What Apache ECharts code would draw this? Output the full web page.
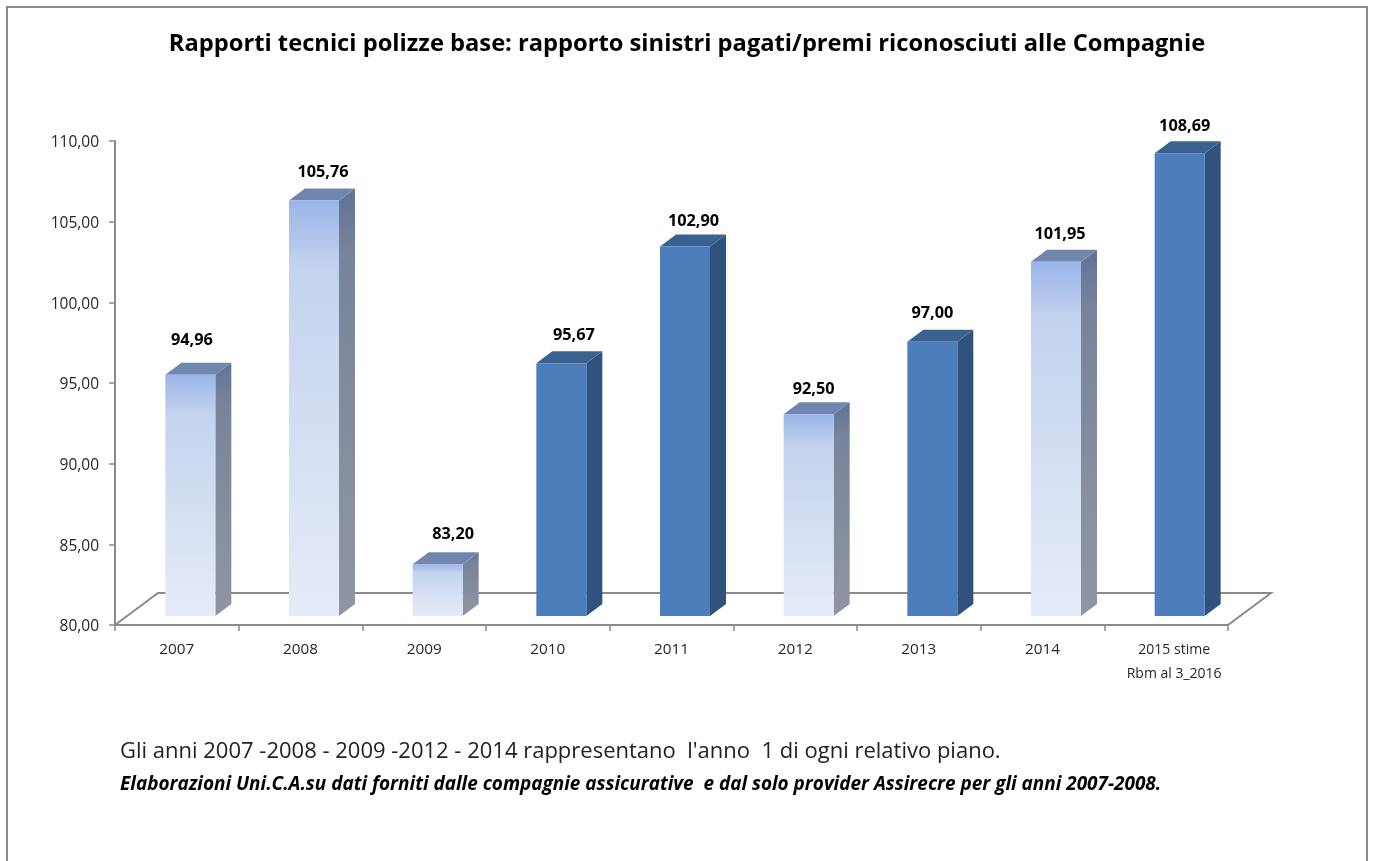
<!DOCTYPE html>
<html>
<head>
<meta charset="utf-8">
<title>Rapporti tecnici polizze base</title>
<style>html,body{margin:0;padding:0;background:#fff}#chart{width:1375px;height:861px}</style>
<script src="https://cdn.jsdelivr.net/npm/echarts@6/dist/echarts.min.js"></script>
</head>
<body>
<div id="chart"></div>
<script>
// Chart data
const years = ['2007', '2008', '2009', '2010', '2011', '2012', '2013', '2014', '2015 stime\nRbm al 3_2016'];
const ratios = [94.96, 105.76, 83.20, 95.67, 102.90, 92.50, 97.00, 101.95, 108.69];
const firstPlanYear = [1, 1, 1, 0, 0, 1, 0, 1, 0];
const yTicks = { min: 80, max: 110, step: 5 };

// Oblique projection of the floor and of each column (pixels)
const FLOOR_DX = 43, FLOOR_DY = -32;
const FRONT_DX = 13.5, FRONT_DY = -9;
const DEPTH_DX = 16, DEPTH_DY = -12;
const BAR_W = 50;
// Hand-placed value labels: offset from the column's front centre and lift above its back edge
const labelShift = [1.5, 9, 15.5, 12.5, 8.5, 5, 0, 4, 5];
const labelLift = [22, 16, 18, 16, 13, 13, 16.5, 16, 15];

const FONT = '"Open Sans", sans-serif';
const GREY = '#8a8a8a';
const vgrad = stops => ({
  type: 'linear', x: 0, y: 0, x2: 0, y2: 1,
  colorStops: stops.map(([offset, color]) => ({ offset, color }))
});

const lightStyle = {
  front: vgrad([[0, '#9ab5e8'], [0.16, '#c3d2ee'], [0.5, '#d2ddf2'], [1, '#e5ebf8']]),
  side: vgrad([[0, '#5f7297'], [0.16, '#78849b'], [1, '#9095a2']]),
  top: '#7186ad'
};
const darkStyle = { front: '#4d7ebc', side: '#30527c', top: '#3a6291' };

const poly = (points, fill) => ({
  type: 'polygon', shape: { points }, style: { fill, stroke: null }
});

function renderBar(params, api) {
  const i = api.value(0);
  const val = api.value(1);
  const base = api.coord([i, yTicks.min]);
  const head = api.coord([i, val]);
  const x0 = base[0] - BAR_W / 2 + FRONT_DX;
  const x1 = x0 + BAR_W;
  const yb = base[1] + FRONT_DY;
  const yt = head[1] + FRONT_DY;
  const s = firstPlanYear[i] ? lightStyle : darkStyle;
  return {
    type: 'group',
    children: [
      poly([[x1, yt], [x1 + DEPTH_DX, yt + DEPTH_DY], [x1 + DEPTH_DX, yb + DEPTH_DY], [x1, yb]], s.side),
      poly([[x0, yt], [x0 + DEPTH_DX, yt + DEPTH_DY], [x1 + DEPTH_DX, yt + DEPTH_DY], [x1, yt]], s.top),
      { type: 'rect', shape: { x: x0, y: yt, width: BAR_W, height: yb - yt }, style: { fill: s.front } },
      {
        type: 'text',
        style: {
          x: x0 + BAR_W / 2 + labelShift[i], y: yt + DEPTH_DY - labelLift[i],
          text: val.toFixed(2).replace('.', ','),
          font: 'bold 16.3px ' + FONT, fill: '#000',
          align: 'center', verticalAlign: 'middle'
        }
      }
    ]
  };
}

// Back and side edges of the floor, drawn from the axis scale
function renderFloor(params, api) {
  const a = api.coord([0, yTicks.min]);
  const b = api.coord([years.length - 1, yTicks.min]);
  const half = api.size([1, 0])[0] / 2;
  const xl = a[0] - half, xr = b[0] + half, y = a[1];
  return {
    type: 'polyline',
    shape: { points: [[xl, y], [xl + FLOOR_DX, y + FLOOR_DY], [xr + FLOOR_DX, y + FLOOR_DY], [xr, y]] },
    style: { fill: null, stroke: GREY, lineWidth: 2 }
  };
}

const chart = echarts.init(document.getElementById('chart'), null, { renderer: 'canvas' });
chart.setOption({
  animation: false,
  backgroundColor: '#fff',
  title: {
    text: 'Rapporti tecnici polizze base: rapporto sinistri pagati/premi riconosciuti alle Compagnie',
    left: 682, top: 27, textAlign: 'center',
    textStyle: { fontFamily: FONT, fontWeight: 'bold', fontSize: 23.7, color: '#000' }
  },
  grid: { left: 115, top: 141, width: 1113, height: 484 },
  xAxis: {
    type: 'category',
    data: years.map((name, i) => i === years.length - 1
      ? { value: name, textStyle: { fontSize: 14, padding: [0, 0, 0, 16] } }
      : name),
    axisLine: { lineStyle: { color: GREY, width: 2 } },
    axisTick: { show: true, length: 6, interval: 0, lineStyle: { color: GREY, width: 1.5 } },
    axisLabel: { interval: 0, fontFamily: FONT, fontSize: 15.3, color: '#262626', margin: 13, lineHeight: 24 }
  },
  yAxis: {
    type: 'value',
    min: yTicks.min, max: yTicks.max, interval: yTicks.step,
    splitLine: { show: false },
    axisLine: { show: true, lineStyle: { color: GREY, width: 2 } },
    axisTick: { show: true, length: 6, lineStyle: { color: GREY, width: 1.5 } },
    axisLabel: {
      margin: 16,
      formatter: v => '{v|' + v.toFixed(2).replace('.', ',') + '}',
      rich: { v: { fontFamily: FONT, fontSize: 15.5, color: '#262626', padding: [4, 0, 0, 0] } }
    }
  },
  graphic: [
    { type: 'rect', shape: { x: 7, y: 7, width: 1360, height: 900 }, style: { fill: null, stroke: GREY, lineWidth: 2 }, silent: true },
    { type: 'text', x: 120, y: 741, style: {
        text: "Gli anni 2007 -2008 - 2009 -2012 - 2014 rappresentano  l'anno  1 di ogni relativo piano.",
        font: '22px ' + FONT, fill: '#222' } },
    { type: 'text', x: 120, y: 775, style: {
        text: 'Elaborazioni Uni.C.A.su dati forniti dalle compagnie assicurative  e dal solo provider Assirecre per gli anni 2007-2008.',
        font: 'italic bold 18.95px ' + FONT, fill: '#000' } }
  ],
  series: [
    { type: 'custom', coordinateSystem: 'cartesian2d', renderItem: renderFloor, data: [[0, yTicks.min]], encode: { x: 0, y: 1 }, silent: true, z: 1 },
    { type: 'custom', coordinateSystem: 'cartesian2d', renderItem: renderBar, data: ratios.map((v, i) => [i, v]), encode: { x: 0, y: 1 }, clip: false, z: 2 }
  ]
});
</script>
</body>
</html>
